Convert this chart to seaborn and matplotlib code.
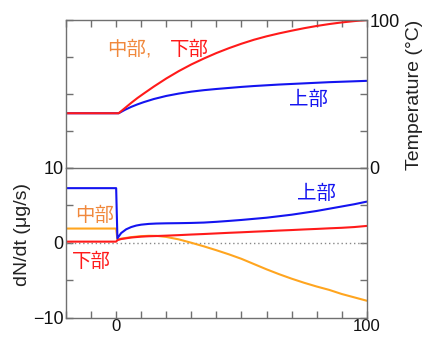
import pandas as pd
import matplotlib
matplotlib.use("Agg")
import matplotlib.pyplot as plt
import seaborn as sns

# time axis (s)
t_temp = [-20, 1, 3.5, 6, 8.5, 11, 15, 20, 25, 30, 35, 40, 45, 50, 55, 60, 65, 70, 75, 80, 85, 90, 95, 100]
temp_lower = [37, 37, 40.5, 44, 47.3, 50.3, 55, 60.5, 65.5, 70, 74, 77.7, 81, 84, 86.7, 89, 91, 92.8, 94.5, 96, 97.3, 98.4, 99.3, 100]
temp_upper = [37, 37, 39.3, 41.3, 43, 44.5, 46.6, 48.7, 50.3, 51.6, 52.6, 53.4, 54.1, 54.8, 55.4, 55.9, 56.4, 56.8, 57.2, 57.6, 58.0, 58.3, 58.6, 58.9]

t_rate = [-20, 0, 0.5, 2, 4, 6, 8, 10, 13, 16, 20, 25, 30, 35, 40, 45, 50, 55, 60, 65, 70, 75, 80, 85, 90, 95, 100]
rate_upper = [7.3, 7.3, 0.6, 1.3, 1.8, 2.1, 2.3, 2.42, 2.52, 2.57, 2.6, 2.62, 2.65, 2.7, 2.8, 2.92, 3.05, 3.2, 3.35, 3.55, 3.75, 4.0, 4.25, 4.55, 4.85, 5.15, 5.5]
rate_middle = [1.9, 1.9, 0.45, 0.55, 0.65, 0.75, 0.82, 0.88, 0.93, 0.92, 0.78, 0.45, 0.0, -0.48, -1.0, -1.55, -2.15, -2.85, -3.55, -4.2, -4.8, -5.35, -5.85, -6.3, -6.85, -7.3, -7.75]
rate_lower = [0.15, 0.15, 0.35, 0.5, 0.6, 0.7, 0.76, 0.82, 0.87, 0.9, 0.95, 1.02, 1.1, 1.17, 1.25, 1.33, 1.4, 1.48, 1.55, 1.63, 1.7, 1.78, 1.85, 1.93, 2.0, 2.1, 2.25]

blue = "#1414f0"
red = "#ff1a1a"
orange_line = "#ffa51f"
orange_text = "#f0883c"
spine_col = "#707070"

sns.set_style("ticks")
plt.rcParams['font.family'] = ['Liberation Sans', 'Noto Sans CJK JP', 'DejaVu Sans']

fig = plt.figure(figsize=(4.26, 3.4), dpi=100)
ax1 = fig.add_axes([0.155, 0.506, 0.706, 0.435])
ax2 = fig.add_axes([0.155, 0.066, 0.706, 0.44])

df_t = pd.DataFrame({"t": t_temp, "upper": temp_upper, "lower": temp_lower})
sns.lineplot(data=df_t, x="t", y="upper", ax=ax1, color=blue, lw=1.5, estimator=None, sort=False)
sns.lineplot(data=df_t, x="t", y="lower", ax=ax1, color=red, lw=1.5, estimator=None, sort=False)

df_r = pd.DataFrame({"t": t_rate, "upper": rate_upper, "middle": rate_middle, "lower": rate_lower})
ax2.plot([-20, 100], [0, 0], ls=(0, (1, 2)), color="#888888", lw=1)
sns.lineplot(data=df_r, x="t", y="middle", ax=ax2, color=orange_line, lw=1.5, estimator=None, sort=False)
sns.lineplot(data=df_r, x="t", y="lower", ax=ax2, color=red, lw=1.5, estimator=None, sort=False)
sns.lineplot(data=df_r, x="t", y="upper", ax=ax2, color=blue, lw=1.5, estimator=None, sort=False)

for ax in (ax1, ax2):
    ax.set_xlim(-20, 100)
    ax.set_xlabel("")
    ax.set_ylabel("")
    for s in ax.spines.values():
        s.set_color(spine_col)
        s.set_linewidth(1)
    ax.set_xticks(range(-20, 101, 10))
    ax.tick_params(colors=spine_col, direction="in", length=5, width=1, labelsize=13,
                   labelcolor="#111111")

# top panel: temperature on the right
ax1.set_ylim(0, 100)
ax1.spines['bottom'].set_visible(False)
ax1.tick_params(axis="x", top=True, bottom=False, labeltop=False, labelbottom=False)
ax1.set_yticks([0, 25, 50, 75, 100])
ax1.set_yticklabels(["0", "", "", "", "100"])
ax1.tick_params(axis="y", left=True, right=True, labelleft=False, labelright=True, pad=2)

# bottom panel
ax2.set_ylim(-10, 10)
ax2.tick_params(axis="x", top=False, bottom=True, pad=1, labelsize=12)
ax2.set_xticklabels(["" if v not in (0, 100) else str(v) for v in range(-20, 101, 10)])
ax2.set_yticks([-10, -5, 0, 5, 10])
ax2.set_yticklabels(["\u221210", "", "0", "", "10"])
ax2.tick_params(axis="y", left=True, right=True, labelleft=True, labelright=False, pad=2)

# labels
ax1.text(-3.5, 80, "中部,", color=orange_text, fontsize=14, ha="left", va="center")
ax1.text(21.5, 80, "下部", color=red, fontsize=14, ha="left", va="center")
ax1.text(69, 46, "上部", color=blue, fontsize=14, ha="left", va="center")
ax2.text(72, 6.6, "上部", color=blue, fontsize=14, ha="left", va="center")
ax2.text(-16.3, 3.6, "中部", color=orange_text, fontsize=14, ha="left", va="center")
ax2.text(-17.5, -2.5, "下部", color=red, fontsize=14, ha="left", va="center")

fig.text(0.052, 0.31, "dN/dt (\u03bcg/s)", rotation=90, ha="center", va="center", fontsize=14, color="#222222")
fig.text(0.973, 0.72, "Temperature (\u00b0C)", rotation=90, ha="center", va="center", fontsize=14, color="#222222")

fig.savefig("out.png", dpi=100)
